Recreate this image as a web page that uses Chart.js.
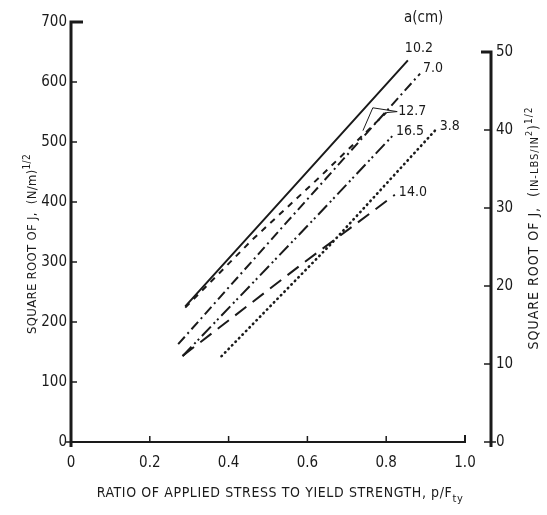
<!DOCTYPE html>
<html>
<head>
<meta charset="utf-8">
<script src="https://cdn.jsdelivr.net/npm/chart.js@4.4.1/dist/chart.umd.min.js"></script>
<style>
  html, body { margin: 0; padding: 0; background: #fff; }
</style>
</head>
<body>
<canvas id="chart" width="547" height="515"></canvas>
<script>
// crack length a (cm) for each curve
const crackLengths = ["10.2", "7.0", "12.7", "16.5", "3.8", "14.0"];

// p/Fty values and sqrt(J) in (N/m)^1/2
const ratio102 = [0.29, 0.50, 0.855];
const sqrtJ102 = [226, 378, 636];
const ratio70 = [0.272, 0.55, 0.886];
const sqrtJ70 = [163, 368, 614];
const ratio127 = [0.29, 0.46, 0.632, 0.80];
const sqrtJ127 = [224, 337, 442, 549];
const ratio165 = [0.283, 0.632, 0.817];
const sqrtJ165 = [143, 382, 511];
const ratio38 = [0.382, 0.657, 0.928];
const sqrtJ38 = [143, 328, 522];
const ratio140 = [0.284, 0.581, 0.822];
const sqrtJ140 = [144, 294, 412];

const xTicks = [0, 0.2, 0.4, 0.6, 0.8, 1.0];
const leftTicks = [0, 100, 200, 300, 400, 500, 600, 700];
const rightTicks = [0, 10, 20, 30, 40, 50];
// 1 (in-lb/in^2)^1/2 in (N/m)^1/2, as drawn on the plot
const unitFactor = 13.0;

const seriesX = [ratio102, ratio70, ratio127, ratio165, ratio38, ratio140];
const seriesY = [sqrtJ102, sqrtJ70, sqrtJ127, sqrtJ165, sqrtJ38, sqrtJ140];

const ink = "#1a1a1a";
const fontFam = "'Liberation Sans Narrow', 'DejaVu Sans Condensed', 'Liberation Sans', sans-serif";
const dashes = [[], [10, 4, 2, 4], [6, 6], [13, 4, 2, 3, 2, 4], [0.5, 4.5], [14, 8]];
const labelShift = [[-3, -12], [3, -5], [12, -1], [3, -4], [3, -2], [4, -2]];

function toPoints(xs, ys) {
  return xs.map((x, i) => ({ x: x, y: ys[i] }));
}

const datasets = crackLengths.map((a, i) => ({
  label: a,
  data: toPoints(seriesX[i], seriesY[i]),
  borderColor: ink,
  borderWidth: i === 4 ? 2.6 : 2,
  borderDash: dashes[i],
  borderCapStyle: i === 4 ? "round" : "butt",
  pointRadius: 0,
  tension: 0,
  fill: false
}));

function drawRich(ctx, parts, x, y, angle, spacing) {
  ctx.save();
  ctx.translate(x, y);
  ctx.rotate(angle);
  ctx.letterSpacing = spacing + "px";
  let total = 0;
  parts.forEach(p => {
    ctx.font = p.size + "px " + fontFam;
    p.w = ctx.measureText(p.t).width;
    total += p.w;
  });
  let cx = -total / 2;
  ctx.textBaseline = "alphabetic";
  ctx.textAlign = "left";
  ctx.fillStyle = ink;
  parts.forEach(p => {
    ctx.font = p.size + "px " + fontFam;
    ctx.fillText(p.t, cx, p.dy || 0);
    cx += p.w;
  });
  ctx.restore();
}

const axesPlugin = {
  id: "axesPlugin",
  afterDraw(chart) {
    const ctx = chart.ctx;
    const xs = chart.scales.x, yl = chart.scales.y, yr = chart.scales.y2;
    const x0 = xs.getPixelForValue(0), x1 = xs.getPixelForValue(1.0);
    const yb = yl.getPixelForValue(0), yt = yl.getPixelForValue(700);
    const xr = yr.left;
    ctx.save();
    ctx.strokeStyle = ink;
    ctx.lineCap = "butt";

    // left axis
    ctx.lineWidth = 3;
    ctx.beginPath();
    ctx.moveTo(x0, yb + 5);
    ctx.lineTo(x0, yt);
    ctx.lineTo(x0 + 12, yt);
    ctx.stroke();
    ctx.lineWidth = 1.5;
    leftTicks.slice(1, -1).forEach(v => {
      const py = yl.getPixelForValue(v);
      ctx.beginPath(); ctx.moveTo(x0, py); ctx.lineTo(x0 + 6, py); ctx.stroke();
    });
    ctx.beginPath(); ctx.moveTo(x0 - 5, yb); ctx.lineTo(x0, yb); ctx.stroke();

    // bottom axis
    ctx.lineWidth = 2;
    ctx.beginPath();
    ctx.moveTo(x0, yb);
    ctx.lineTo(x1, yb);
    ctx.lineTo(x1, yb - 7);
    ctx.stroke();
    ctx.lineWidth = 1.5;
    xTicks.slice(1, -1).forEach(v => {
      const px = xs.getPixelForValue(v);
      ctx.beginPath(); ctx.moveTo(px, yb); ctx.lineTo(px, yb - 6); ctx.stroke();
    });

    // right axis
    const r50 = yr.getPixelForValue(50), r0 = yr.getPixelForValue(0);
    ctx.lineWidth = 3;
    ctx.beginPath();
    ctx.moveTo(xr - 10, r50);
    ctx.lineTo(xr, r50);
    ctx.lineTo(xr, r0 + 5);
    ctx.stroke();
    ctx.lineWidth = 1.5;
    rightTicks.slice(1, -1).forEach(v => {
      const py = yr.getPixelForValue(v);
      ctx.beginPath(); ctx.moveTo(xr - 7, py); ctx.lineTo(xr, py); ctx.stroke();
    });
    ctx.beginPath(); ctx.moveTo(xr - 7, r0); ctx.lineTo(xr + 5, r0); ctx.stroke();
    ctx.restore();

    // axis titles
    drawRich(ctx, [
      { t: "RATIO OF APPLIED STRESS TO YIELD STRENGTH, p/F", size: 14 },
      { t: "ty", size: 11, dy: 5 }
    ], 280, 497, 0, 0.6);
    drawRich(ctx, [
      { t: "SQUARE ROOT OF J,  (N/m)", size: 13 },
      { t: "1/2", size: 10, dy: -6 }
    ], 36, 244, -Math.PI / 2, 0.3);
    drawRich(ctx, [
      { t: "SQUARE ROOT OF J,  (", size: 14 },
      { t: "IN-LBS/IN", size: 11 },
      { t: "2", size: 9, dy: -6 },
      { t: ")", size: 14 },
      { t: "1/2", size: 10, dy: -6 }
    ], 538, 228, -Math.PI / 2, 1);

    // curve labels
    ctx.save();
    ctx.fillStyle = ink;
    ctx.font = "14px " + fontFam;
    ctx.textBaseline = "middle";
    ctx.textAlign = "left";
    chart.data.datasets.forEach((ds, i) => {
      const pts = chart.getDatasetMeta(i).data;
      const last = pts[pts.length - 1];
      ctx.fillText(ds.label, last.x + labelShift[i][0], last.y + labelShift[i][1]);
    });
    ctx.font = "15px " + fontFam;
    ctx.fillText("a(cm)", 404, 18);

    // leader for 12.7
    const p127 = chart.getDatasetMeta(2).data;
    const end127 = p127[p127.length - 1];
    ctx.strokeStyle = ink;
    ctx.lineWidth = 1;
    ctx.beginPath();
    ctx.moveTo(end127.x + 11, end127.y - 1);
    ctx.lineTo(xs.getPixelForValue(0.766), yl.getPixelForValue(557));
    ctx.lineTo(xs.getPixelForValue(0.741), yl.getPixelForValue(519));
    ctx.stroke();
    ctx.beginPath();
    ctx.moveTo(end127.x + 11, end127.y - 1);
    ctx.lineTo(end127.x, end127.y);
    ctx.stroke();
    ctx.restore();
  }
};

new Chart(document.getElementById("chart"), {
  type: "line",
  data: { datasets: datasets },
  plugins: [axesPlugin],
  options: {
    responsive: false,
    animation: false,
    devicePixelRatio: 1,
    layout: { padding: { top: 22, left: 0, right: 0, bottom: 0 } },
    plugins: { legend: { display: false }, tooltip: { enabled: false } },
    scales: {
      x: {
        type: "linear",
        min: 0,
        max: 1.066,
        afterBuildTicks: s => { s.ticks = xTicks.map(v => ({ value: v })); },
        afterFit: s => { s.height = 73; },
        grid: { display: false, drawTicks: false },
        border: { display: false },
        ticks: {
          padding: 12,
          color: ink,
          font: { family: fontFam, size: 15 },
          callback: v => (v === 0 ? "0" : v.toFixed(1))
        }
      },
      y: {
        type: "linear",
        position: "left",
        min: 0,
        max: 700,
        afterBuildTicks: s => { s.ticks = leftTicks.map(v => ({ value: v })); },
        afterFit: s => { s.width = 71; },
        grid: { display: false, drawTicks: false },
        border: { display: false },
        ticks: { padding: 4, color: ink, font: { family: fontFam, size: 15 } }
      },
      y2: {
        type: "linear",
        position: "right",
        min: 0,
        max: 700 / unitFactor,
        afterBuildTicks: s => { s.ticks = rightTicks.map(v => ({ value: v })); },
        afterFit: s => { s.width = 56; },
        grid: { display: false, drawTicks: false },
        border: { display: false },
        ticks: { padding: 5, color: ink, font: { family: fontFam, size: 15 } }
      }
    }
  }
});
</script>
</body>
</html>
